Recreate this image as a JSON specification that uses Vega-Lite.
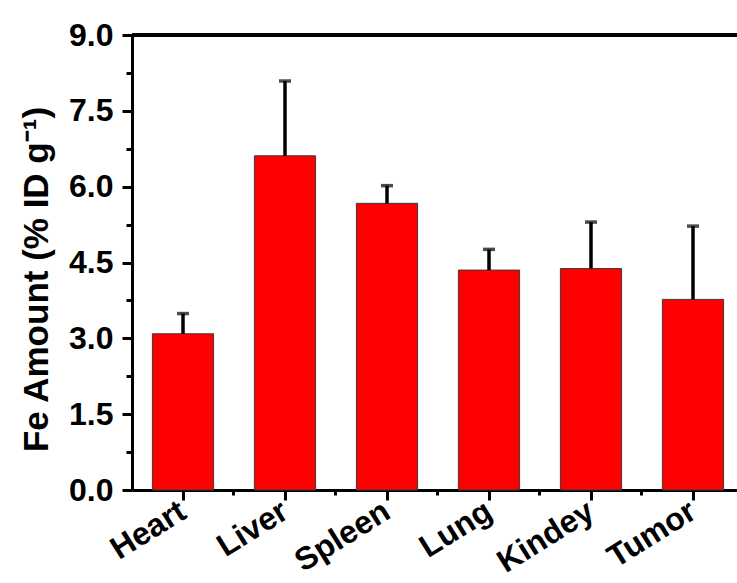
{
  "$schema": "https://vega.github.io/schema/vega-lite/v6.json",
  "width": 605,
  "height": 455,
  "autosize": "none",
  "padding": {"left": 132, "top": 35, "right": 0, "bottom": 93},
  "background": "white",
  "config": {
    "view": {"stroke": null},
    "font": "Liberation Sans"
  },
  "data": {
    "values": [
      {"organ": "Heart", "value": 3.09, "upper": 3.49},
      {"organ": "Liver", "value": 6.61, "upper": 8.09},
      {"organ": "Spleen", "value": 5.67, "upper": 6.02},
      {"organ": "Lung", "value": 4.35, "upper": 4.76},
      {"organ": "Kindey", "value": 4.38, "upper": 5.30},
      {"organ": "Tumor", "value": 3.77, "upper": 5.22}
    ]
  },
  "resolve": {"axis": {"x": "independent", "y": "independent"}},
  "layer": [
    {
      "mark": {"type": "bar", "fill": "#ff0000", "stroke": "#3a3a3a", "strokeWidth": 1},
      "encoding": {
        "x": {
          "field": "organ", "type": "nominal",
          "scale": {"domain": ["Heart", "Liver", "Spleen", "Lung", "Kindey", "Tumor"], "range": [0, 612], "paddingInner": 0.4, "paddingOuter": 0.2},
          "axis": {
            "orient": "bottom", "title": null, "labelAngle": -32, "labelAlign": "right", "labelBaseline": "middle",
            "labelFont": "Liberation Sans", "labelFontWeight": "bold", "labelFontSize": 32, "labelColor": "black",
            "labelPadding": 8, "tickSize": 10, "tickWidth": 3, "tickColor": "black",
            "domainWidth": 3, "domainColor": "black", "grid": false
          }
        },
        "y": {
          "field": "value", "type": "quantitative",
          "scale": {"domain": [0, 9], "nice": false, "zero": true},
          "axis": {
            "orient": "left", "values": [0, 1.5, 3, 4.5, 6, 7.5, 9], "format": ".1f",
            "labelFont": "Liberation Sans", "labelFontWeight": "bold", "labelFontSize": 32, "labelColor": "black",
            "labelPadding": 9, "tickSize": 10, "tickWidth": 3, "tickColor": "black",
            "domainWidth": 3, "domainColor": "black", "grid": false,
            "title": "Fe Amount (% ID g⁻¹)", "titleFont": "Liberation Sans", "titleFontWeight": "bold",
            "titleFontSize": 35, "titleColor": "black", "titleX": -85, "titleY": 244, "titleBaseline": "alphabetic", "titleAngle": -90
          }
        }
      }
    },
    {
      "mark": {"type": "rule", "stroke": "black", "strokeWidth": 3.5},
      "encoding": {
        "x": {
          "field": "organ", "type": "nominal",
          "scale": {"domain": ["Heart", "Liver", "Spleen", "Lung", "Kindey", "Tumor"], "range": [0, 612], "paddingInner": 0.4, "paddingOuter": 0.2},
          "axis": {
            "orient": "bottom", "title": null, "labels": false, "domain": false, "bandPosition": 1.3333,
            "tickSize": 5, "tickWidth": 3, "tickColor": "black", "grid": false
          }
        },
        "y": {
          "field": "value", "type": "quantitative",
          "scale": {"domain": [0, 9], "nice": false},
          "axis": {
            "orient": "left", "values": [0.75, 2.25, 3.75, 5.25, 6.75, 8.25], "labels": false, "domain": false,
            "tickSize": 6, "tickWidth": 3, "tickColor": "black", "grid": false, "title": null
          }
        },
        "y2": {"field": "upper"}
      }
    },
    {
      "mark": {"type": "tick", "color": "black", "size": 12, "thickness": 3.5, "orient": "horizontal"},
      "encoding": {
        "x": {
          "field": "organ", "type": "nominal",
          "scale": {"domain": ["Heart", "Liver", "Spleen", "Lung", "Kindey", "Tumor"], "range": [0, 612], "paddingInner": 0.4, "paddingOuter": 0.2},
          "axis": null
        },
        "y": {"field": "upper", "type": "quantitative", "scale": {"domain": [0, 9], "nice": false}, "axis": null}
      }
    },
    {
      "mark": {"type": "rule", "stroke": "black", "strokeWidth": 3},
      "encoding": {
        "y": {"datum": 9, "type": "quantitative", "scale": {"domain": [0, 9], "nice": false}, "axis": null}
      }
    }
  ]
}
